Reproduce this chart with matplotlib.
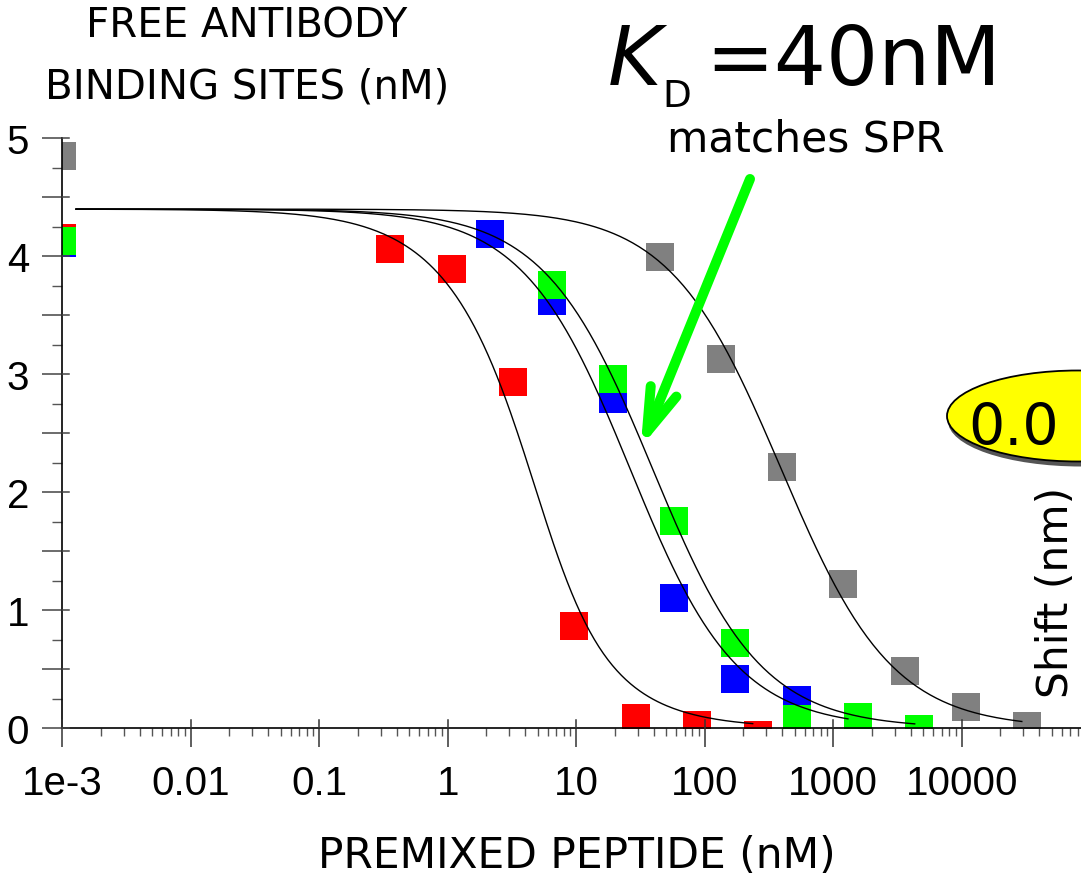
import numpy as np
import matplotlib
matplotlib.use("Agg")
import matplotlib.pyplot as plt
import matplotlib.transforms as mtransforms
from matplotlib.patches import Ellipse
from matplotlib.lines import Line2D
from matplotlib.ticker import FixedLocator, FixedFormatter, FuncFormatter, NullFormatter

plt.rcParams['font.family'] = ['DejaVu Sans']
plt.rcParams['mathtext.fontset'] = 'dejavusans'

# Premixed peptide (nM) vs free antibody binding sites (nM); 1e-3 is the no-peptide control
red_x = [1e-3, 0.356, 1.07, 3.21, 9.6, 29.0, 86.9, 259]
red_y = [4.155, 4.06, 3.895, 2.936, 0.869, 0.089, 0.03, -0.055]
blue_x = [1e-3, 2.13, 6.44, 19.2, 57.5, 172.6, 518]
blue_y = [4.11, 4.19, 3.625, 2.788, 1.106, 0.418, 0.236]
green_x = [1e-3, 6.44, 19.2, 57.5, 172.6, 518, 1555, 4667]
green_y = [4.13, 3.758, 2.956, 1.759, 0.723, 0.083, 0.097, -0.004]
gray_x = [1e-3, 44.5, 133.4, 400, 1200, 3600, 10800, 32400]
gray_y = [4.854, 3.998, 3.128, 2.213, 1.219, 0.484, 0.178, 0.021]

# Fitted binding model: total sites and dissociation constants (nM)
sites_total = 4.4
kd_red, kd_blue, kd_green, kd_gray = 2.1, 24.0, 37.0, 390.0
fit_start = 1.28e-3
fit_end_red, fit_end_blue, fit_end_green, fit_end_gray = 236, 1300, 4300, 29300

x_major = [1e-3, 1e-2, 1e-1, 1, 10, 100, 1000, 10000]
x_labels = ['1e-3', '0.01', '0.1', '1', '10', '100', '1000', '10000']


def free_sites(peptide, kd, total):
    b = total - peptide - kd
    return 2 * kd * total / (np.sqrt(b * b + 4 * kd * total) - b)


W, H = 1081, 878
fig = plt.figure(figsize=(W / 100, H / 100), dpi=100)

x0_px, x1_px = 62.3, 1090.3
y0_px, y1_px = 729.3, 139.3
ax = fig.add_axes([x0_px / W, (H - y0_px) / H, (x1_px - x0_px) / W, (y0_px - y1_px) / H])
ax.set_xscale('log')
ax.set_xlim(1e-3, 1e5)
ax.set_ylim(0, 5)

series = [
    (gray_x, gray_y, '#808080', kd_gray, fit_end_gray),
    (red_x, red_y, '#ff0000', kd_red, fit_end_red),
    (blue_x, blue_y, '#0000ff', kd_blue, fit_end_blue),
    (green_x, green_y, '#00ff00', kd_green, fit_end_green),
]
for xs, ys, col, kd, xend in series:
    ax.plot(xs, ys, 's', ms=20, mew=0, color=col, linestyle='none', zorder=2)
for xs, ys, col, kd, xend in series:
    xx = np.geomspace(fit_start, xend, 300)
    ax.plot(xx, free_sites(xx, kd, sites_total), color='black', lw=1.0, zorder=3)

for side in ('top', 'right'):
    ax.spines[side].set_visible(False)
for side in ('left', 'bottom'):
    ax.spines[side].set_linewidth(1.2)
    ax.spines[side].set_color('black')

ax.xaxis.set_major_locator(FixedLocator(x_major))
ax.xaxis.set_major_formatter(FixedFormatter(x_labels))
minor_x = [m * 10.0 ** e for e in range(-3, 5) for m in range(2, 10)]
ax.xaxis.set_minor_locator(FixedLocator(minor_x))
ax.xaxis.set_minor_formatter(NullFormatter())

y_major = np.arange(0, 5.01, 0.5)
ax.yaxis.set_major_locator(FixedLocator(y_major))
ax.yaxis.set_major_formatter(FuncFormatter(
    lambda v, p: f'{v:.0f}' if abs(v - round(v)) < 1e-9 else ''))
ax.yaxis.set_minor_locator(FixedLocator(np.arange(0.25, 5, 0.5)))
ax.yaxis.set_minor_formatter(NullFormatter())

ax.tick_params(axis='x', which='major', direction='out', length=13.7, width=1.1,
               color='#333333', pad=12, labelsize=29, labelfontfamily='Liberation Sans')
ax.tick_params(axis='x', which='minor', direction='out', length=6, width=1.0, color='#555555')
ax.tick_params(axis='y', which='major', direction='out', length=14.4, width=1.1,
               color='#444444', pad=9.5, labelsize=29, labelfontfamily='Liberation Sans')
ax.tick_params(axis='y', which='minor', direction='out', length=7.2, width=1.0, color='#555555')

# inward part of the crossing major ticks
tx = mtransforms.blended_transform_factory(ax.transData, ax.transAxes)
for xv in x_major:
    ax.plot([xv, xv], [0, 8 / (y0_px - y1_px)], transform=tx, color='#333333',
            lw=1.1, clip_on=False, zorder=4)
ty = mtransforms.blended_transform_factory(ax.transAxes, ax.transData)
for yv in y_major:
    ax.plot([0, 7 / (x1_px - x0_px)], [yv, yv], transform=ty, color='#444444',
            lw=1.1, clip_on=False, zorder=4)

# Annotation layer in pixel coordinates
ov = fig.add_axes([0, 0, 1, 1], zorder=5)
ov.set_xlim(0, W)
ov.set_ylim(H, 0)
ov.axis('off')
ov.patch.set_visible(False)

ov.text(247, 37, 'FREE ANTIBODY', ha='center', va='baseline', fontsize=29)
ov.text(247, 98, 'BINDING SITES (nM)', ha='center', va='baseline', fontsize=29)
ov.text(577, 868, 'PREMIXED PEPTIDE (nM)', ha='center', va='baseline', fontsize=30.5)

ov.text(608, 85, 'K', style='italic', ha='left', va='baseline', fontsize=59)
ov.text(662, 107, 'D', ha='left', va='baseline', fontsize=27)
ov.text(705, 85, '=40nM', ha='left', va='baseline', fontsize=59)
ov.text(806, 152, 'matches SPR', ha='center', va='baseline', fontsize=30.5)

# green arrow
tip = np.array([647.0, 433.0])
tail = np.array([750.0, 180.0])
d = (tail - tip) / np.linalg.norm(tail - tip)
ang = np.deg2rad(17.5)
rot = lambda a: np.array([[np.cos(a), -np.sin(a)], [np.sin(a), np.cos(a)]])
arm1 = tip + 46 * rot(ang) @ d
arm2 = tip + 46 * rot(-ang) @ d
arrow_kw = dict(color='#00ff00', lw=7.2, solid_capstyle='round', solid_joinstyle='round')
ov.add_line(Line2D([tail[0], tip[0]], [tail[1], tip[1]], **arrow_kw))
ov.add_line(Line2D([arm1[0], tip[0], arm2[0]], [arm1[1], tip[1], arm2[1]], **arrow_kw))

# value badge
ov.add_patch(Ellipse((1081, 422), 266, 91, facecolor='#555555', edgecolor='none'))
ov.add_patch(Ellipse((1078, 417), 262, 91, facecolor='#ffff00', edgecolor='black', lw=1.3))
ov.text(968, 445, '0.0', ha='left', va='baseline', fontsize=41)

ov.text(1056, 592, 'Shift (nm)', rotation=90, ha='center', va='center', fontsize=30.5)

fig.savefig('out.png', dpi=100)
